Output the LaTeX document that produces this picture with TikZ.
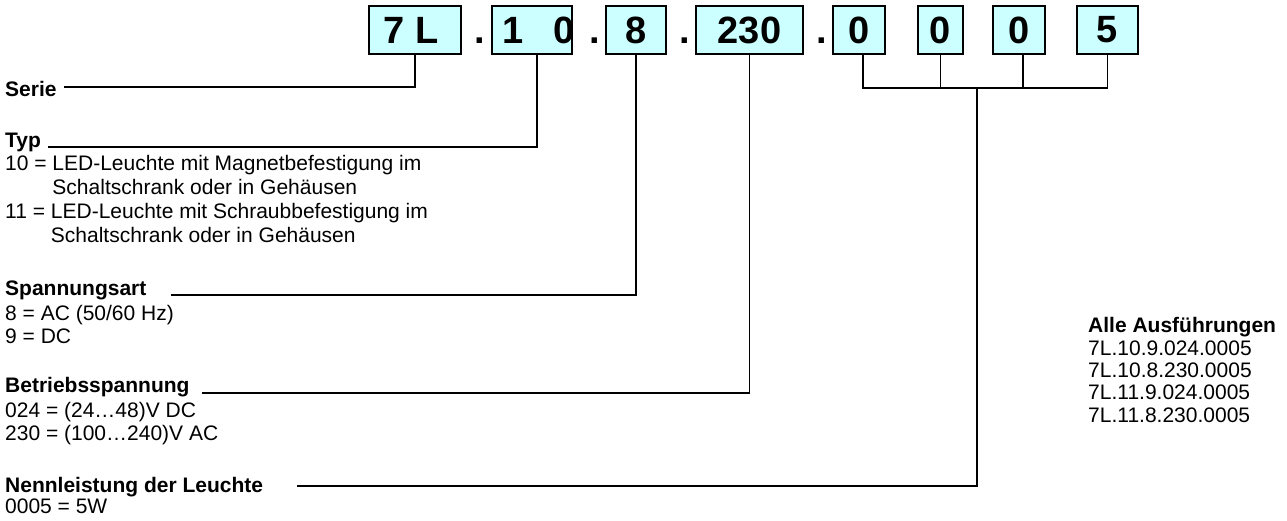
\documentclass[tikz,border=0pt]{standalone}
\usepackage{fontspec}
\setmainfont{Liberation Sans}
\begin{document}
\begin{tikzpicture}[x=1pt,y=-1pt,
  codebox/.style={draw=black,line width=1.8pt,fill=cyan!20,inner sep=0pt,minimum height=48pt,
     font=\fontsize{38}{40}\selectfont\bfseries},
  dotlbl/.style={anchor=base,inner sep=0pt,font=\fontsize{38}{40}\selectfont\bfseries},
  hd/.style={anchor=base west,inner sep=0pt,font=\fontsize{21}{24}\selectfont\bfseries},
  tx/.style={anchor=base west,inner sep=0pt,font=\fontsize{21}{24}\selectfont},
  conn/.style={line width=1.4pt,line cap=rect}]
\useasboundingbox (0,0) rectangle (1287,521);
\definecolor{boxfill}{RGB}{204,255,255}
\tikzset{codebox/.append style={fill=boxfill}}
% code boxes
\node[codebox,minimum width=92pt] (b7) at (415,30) {\makebox[0pt]{7 L\hspace{8pt}}};
\node[dotlbl] (d1) at (480,44) {.};
\node[codebox,minimum width=80pt] (b10) at (532,30) {\makebox[0pt]{\hspace{14pt}1\hspace{30pt}0}};
\node[dotlbl] (d2) at (595,44) {.};
\node[codebox,minimum width=60pt] (b8) at (636,30) {8};
\node[dotlbl] (d3) at (685,44) {.};
\node[codebox,minimum width=107pt] (b230) at (749.5,30) {230};
\node[dotlbl] (d4) at (822,44) {.};
\node[codebox,minimum width=52pt] (ba) at (859,30) {0};
\node[codebox,minimum width=45pt] (bb) at (940.5,30) {0};
\node[codebox,minimum width=52pt] (bc) at (1019,30) {0};
\node[codebox,minimum width=61pt] (bd) at (1107.5,30) {5};
% left texts
\node[hd] (serie) at (5,97) {Serie};
\node[hd] (typ) at (5,148) {Typ};
\node[tx] (t1) at (5,171) {10 = LED-Leuchte mit Magnetbefestigung im};
\node[tx] (t2) at (5,195) {\phantom{10 = }Schaltschrank oder in Gehäusen};
\node[tx] (t3) at (5,219) {11 = LED-Leuchte mit Schraubbefestigung im};
\node[tx] (t4) at (5,243) {\phantom{11 = }Schaltschrank oder in Gehäusen};
\node[hd] (span) at (5,295) {Spannungsart};
\node[tx] (s1) at (5,320) {8 = AC (50/60 Hz)};
\node[tx] (s2) at (5,343) {9 = DC};
\node[hd] (betr) at (5,392) {Betriebsspannung};
\node[tx] (u1) at (5,417) {024 = (24…48)V DC};
\node[tx] (u2) at (5,440) {230 = (100…240)V AC};
\node[hd] (nenn) at (5,492) {Nennleistung der Leuchte};
\node[tx] (n1) at (5,513) {0005 = 5W};
% right list
\node[hd] (alle) at (1088,332) {Alle Ausführungen};
\node[tx] (a1) at (1088,355) {7L.10.9.024.0005};
\node[tx] (a2) at (1088,377) {7L.10.8.230.0005};
\node[tx] (a3) at (1088,399) {7L.11.9.024.0005};
\node[tx] (a4) at (1088,422) {7L.11.8.230.0005};
% line ends
\coordinate (eSerie) at (65,87);
\coordinate (eTyp) at (49,147);
\coordinate (eSpan) at (172,295);
\coordinate (eBetr) at (203,393);
\coordinate (eNenn) at (298,486);
\coordinate (j) at (977,88);
% connectors
\draw[conn] (b7.south) |- (eSerie);
\draw[conn] ([xshift=5pt]b10.south) |- (eTyp);
\draw[conn] (b8.south) |- (eSpan);
\draw[conn] (b230.south) |- (eBetr);
\draw[conn] ([xshift=4pt]ba.south) |- (bd.south |- j) -- (bd.south);
\draw[conn] (bb.south) -- (bb.south |- j);
\draw[conn] ([xshift=4pt]bc.south) -- ([xshift=4pt]bc.south |- j);
\draw[conn] (j) |- (eNenn);
\end{tikzpicture}
\end{document}
